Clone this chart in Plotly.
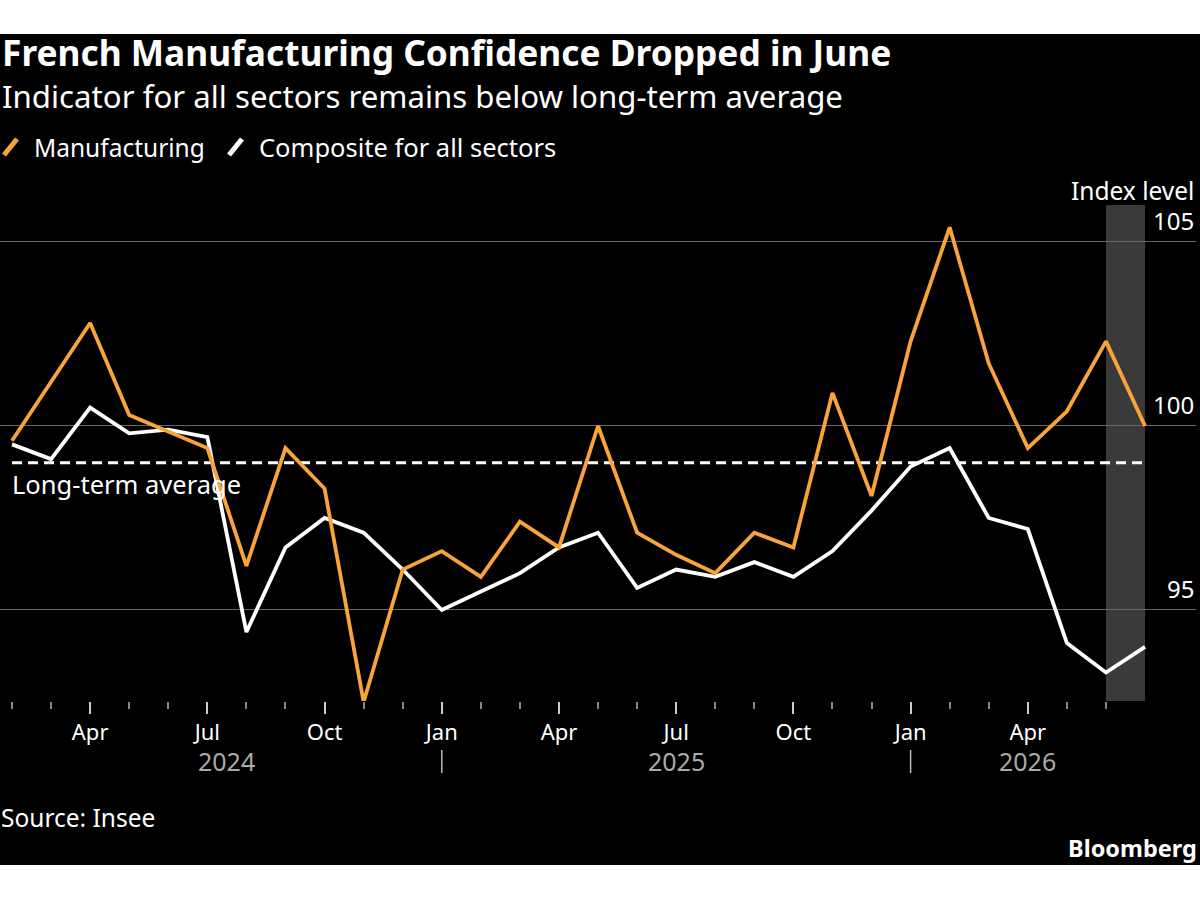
import plotly.graph_objects as go

# ---------------- data ----------------
months = ["2024-02", "2024-03", "2024-04", "2024-05", "2024-06", "2024-07", "2024-08",
          "2024-09", "2024-10", "2024-11", "2024-12", "2025-01", "2025-02", "2025-03",
          "2025-04", "2025-05", "2025-06", "2025-07", "2025-08", "2025-09", "2025-10",
          "2025-11", "2025-12", "2026-01", "2026-02", "2026-03", "2026-04", "2026-05",
          "2026-06", "2026-07"]
manufacturing = [99.6, 101.2, 102.8, 100.3, 99.85, 99.4, 96.2, 99.4, 98.3, 92.5,
                 96.1, 96.6, 95.9, 97.4, 96.7, 100.0, 97.1, 96.5, 96.0, 97.1,
                 96.7, 100.9, 98.1, 102.3, 105.4, 101.7, 99.4, 100.4, 102.3, 100.0]
composite = [99.5, 99.1, 100.5, 99.8, 99.9, 99.7, 94.4, 96.7, 97.5, 97.1,
             96.1, 95.0, 95.5, 96.0, 96.7, 97.1, 95.6, 96.1, 95.9, 96.3,
             95.9, 96.6, 97.7, 98.9, 99.4, 97.5, 97.2, 94.1, 93.3, 94.0]
long_term_average = 99.0
y_ticks = [95, 100, 105]
month_abbr = {"01": "Jan", "04": "Apr", "07": "Jul", "10": "Oct"}
highlight_month = "2026-06"

ORANGE = "#F9A43A"
WHITE = "#FFFFFF"
FONT = "Noto Sans"

x = list(range(len(months)))
tick_months = x[:-1]  # the last month carries no tick
quarter_vals = [i for i in tick_months if months[i][5:] in month_abbr]
quarter_text = [month_abbr[months[i][5:]] for i in quarter_vals]

fig = go.Figure()

fig.add_trace(go.Scatter(x=[x[0], x[-1]], y=[long_term_average] * 2, mode="lines",
                         line=dict(color=WHITE, width=3, dash="10px,6px"),
                         hoverinfo="skip", showlegend=False))
fig.add_trace(go.Scatter(x=x, y=composite, mode="lines", name="Composite for all sectors",
                         line=dict(color=WHITE, width=3.8), showlegend=False))
fig.add_trace(go.Scatter(x=x, y=manufacturing, mode="lines", name="Manufacturing",
                         line=dict(color=ORANGE, width=3.8), showlegend=False))

PLOT_TOP, PLOT_BOTTOM, PLOT_H = 205, 701, 496


def py(px):
    return (PLOT_BOTTOM - px) / PLOT_H


shapes = [
    dict(type="rect", xref="paper", yref="paper", x0=-0.01, x1=1.01, y0=py(865), y1=py(34),
         fillcolor="#000000", line=dict(width=0), layer="below"),
]
hi = months.index(highlight_month)
shapes.append(dict(type="rect", xref="x", yref="paper", x0=x[hi], x1=x[hi + 1], y0=0, y1=1,
                   fillcolor="#3a3a3a", line=dict(width=0), layer="below"))
for i, m in enumerate(months):
    if m[5:] == "01":
        shapes.append(dict(type="line", xref="x", yref="paper", x0=x[i], x1=x[i],
                           y0=py(750), y1=py(773), line=dict(color="#bbbbbb", width=1.5)))
shapes.append(dict(type="line", xref="paper", yref="paper", x0=4 / 1196, x1=17 / 1196,
                   y0=py(155), y1=py(139), line=dict(color=ORANGE, width=5)))
shapes.append(dict(type="line", xref="paper", yref="paper", x0=229 / 1196, x1=242 / 1196,
                   y0=py(155), y1=py(139), line=dict(color=WHITE, width=5)))


def label(text, xv, yv, size, xanchor="left", yanchor="middle", color=WHITE, xref="paper", yref="paper", **kw):
    return dict(x=xv, y=yv, xref=xref, yref=yref, text=text, showarrow=False,
                xanchor=xanchor, yanchor=yanchor, font=dict(family=FONT, size=size, color=color), **kw)


annotations = []
years = sorted(set(m[:4] for m in months))
for yr in years:
    idx = [i for i, m in enumerate(months) if m[:4] == yr]
    first = idx[0]
    last = idx[-1] + 1 if idx[-1] + 1 < len(months) else idx[-1]
    annotations.append(label(yr, (first + last) / 2, py(761), 25, xanchor="center",
                             color="#aaaaaa", xref="x"))
for v in y_ticks:
    annotations.append(label(str(v), 1, v, 24, xanchor="right", yanchor="bottom",
                             yref="y", yshift=3))
annotations += [
    label("Index level", 1, py(191), 24.5, xanchor="right"),
    label("Long-term average", x[0], long_term_average, 25.5, yanchor="top", xref="x", yref="y",
          yshift=-2, xshift=-2),
    label("<b>French Manufacturing Confidence Dropped in June</b>", 0, py(52), 35.3),
    label("Indicator for all sectors remains below long-term average", 0, py(96), 31.2),
    label("Manufacturing", 32 / 1196, py(147), 24.5),
    label("Composite for all sectors", 257 / 1196, py(147), 25.5),
    label("Source: Insee", -1 / 1196, py(817), 24.5),
    label("<b>Bloomberg</b>", 1.0025, py(848), 23.5, xanchor="right"),
]

px_per = 39.07
fig.update_layout(
    width=1200, height=900,
    margin=dict(l=0, r=4, t=PLOT_TOP, b=900 - PLOT_BOTTOM, pad=0),
    paper_bgcolor="#ffffff", plot_bgcolor="#000000",
    showlegend=False,
    shapes=shapes, annotations=annotations,
    xaxis=dict(range=[-12 / px_per, (1196 - 12) / px_per], showgrid=False, zeroline=False,
               tickmode="array", tickvals=quarter_vals, ticktext=quarter_text,
               ticks="outside", ticklen=12, tickwidth=2, tickcolor="#cccccc",
               tickfont=dict(family=FONT, size=22, color=WHITE), showline=False,
               minor=dict(tickmode="array", tickvals=tick_months, ticks="outside", ticklen=7,
                          tickwidth=1.5, tickcolor="#888888")),
    yaxis=dict(range=[92.527, 106.005], tickmode="array", tickvals=y_ticks,
               showticklabels=False, showgrid=True, gridcolor="#666666", gridwidth=1,
               zeroline=False, showline=False, ticks=""),
)

fig.write_html("out.html")
